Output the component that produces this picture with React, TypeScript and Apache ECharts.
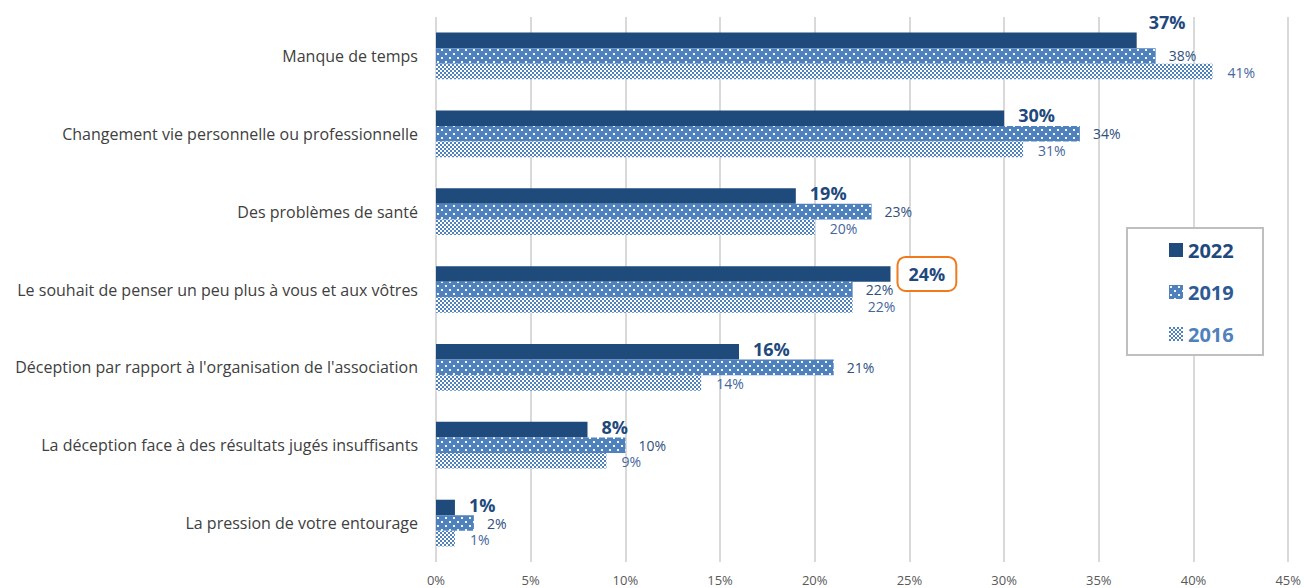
import React, { useEffect, useRef } from "react";
import * as echarts from "echarts";

const categories = [
  "Manque de temps",
  "Changement vie personnelle ou professionnelle",
  "Des problèmes de santé",
  "Le souhait de penser un peu plus à vous et aux vôtres",
  "Déception par rapport à l'organisation de l'association",
  "La déception face à des résultats jugés insuffisants",
  "La pression de votre entourage",
];
const values2022 = [37, 30, 19, 24, 16, 8, 1];
const values2019 = [38, 34, 23, 22, 21, 10, 2];
const values2016 = [41, 31, 20, 22, 14, 9, 1];
const seriesNames = ["2022", "2019", "2016"];

const FONT = "'Open Sans', 'Noto Sans', sans-serif";

function makeDots(): HTMLCanvasElement {
  const c = document.createElement("canvas");
  c.width = 8;
  c.height = 8;
  const ctx = c.getContext("2d")!;
  ctx.fillStyle = "#4F81BD";
  ctx.fillRect(0, 0, 8, 8);
  ctx.fillStyle = "rgba(255,255,255,0.95)";
  ctx.fillRect(1, 1, 2, 2);
  ctx.fillRect(5, 5, 2, 2);
  return c;
}

function makeChecker(): HTMLCanvasElement {
  const c = document.createElement("canvas");
  c.width = 4;
  c.height = 4;
  const ctx = c.getContext("2d")!;
  ctx.fillStyle = "#ffffff";
  ctx.fillRect(0, 0, 4, 4);
  ctx.fillStyle = "#4F81BD";
  ctx.fillRect(0, 0, 2, 2);
  ctx.fillRect(2, 2, 2, 2);
  return c;
}

export default function App() {
  const ref = useRef<HTMLDivElement>(null);
  useEffect(() => {
    if (!ref.current) return;
    const chart = echarts.init(ref.current, null, { renderer: "svg" });
    const dots = makeDots();
    const checker = makeChecker();

    const data2022 = values2022.map((v, i) => {
      if (i === 0) return { value: v, label: { offset: [-2, -18] } };
      if (i === 3)
        return {
          value: v,
          label: {
            distance: 8,
            offset: [0, 0],
            backgroundColor: "#ffffff",
            borderColor: "#F07A1C",
            borderWidth: 2,
            borderRadius: 7,
            padding: [7, 10, 7, 10],
          },
        };
      return v;
    });

    chart.setOption({
      animation: false,
      textStyle: { fontFamily: FONT },
      grid: { left: 436, right: 14, top: 17, bottom: 26 },
      xAxis: {
        type: "value",
        min: 0,
        max: 45,
        interval: 5,
        axisLine: { show: false },
        axisTick: { show: false },
        axisLabel: {
          formatter: "{value}%",
          color: "#595959",
          fontSize: 13,
          margin: 11,
          fontFamily: FONT,
        },
        splitLine: { show: true, lineStyle: { color: "#D9D9D9", width: 2 } },
      },
      yAxis: {
        type: "category",
        inverse: true,
        data: categories,
        axisLine: { show: false },
        axisTick: { show: false },
        axisLabel: { color: "#404040", fontSize: 16, margin: 18, fontFamily: FONT },
      },
      legend: {
        orient: "vertical",
        left: 1164,
        top: 235,
        itemWidth: 14,
        itemHeight: 14,
        itemGap: 22,
        z: 20,
        icon: "rect",
        data: [
          { name: seriesNames[0], textStyle: { color: "#1F497D" } },
          { name: seriesNames[1], textStyle: { color: "#2E5A94" } },
          { name: seriesNames[2], textStyle: { color: "#4F81BD" } },
        ],
        textStyle: { fontSize: 20, fontWeight: "bold", fontFamily: FONT, lineHeight: 20 },
      },
      graphic: [
        {
          type: "rect",
          z: 10,
          shape: { x: 1127, y: 228, width: 136, height: 127 },
          style: { fill: "#ffffff", stroke: "#BFBFBF", lineWidth: 2 },
        },
      ],
      series: [
        {
          name: seriesNames[0],
          type: "bar",
          data: data2022,
          barGap: "0%",
          barCategoryGap: "40%",
          itemStyle: { color: "#1F4A7C" },
          label: {
            show: true,
            position: "right",
            distance: 14,
            offset: [0, -3],
            formatter: "{c}%",
            color: "#1F497D",
            fontSize: 18,
            fontWeight: "bold",
            fontFamily: FONT,
          },
        },
        {
          name: seriesNames[1],
          type: "bar",
          data: values2019,
          barGap: "0%",
          barCategoryGap: "40%",
          itemStyle: { color: { image: dots, repeat: "repeat" } },
          label: {
            show: true,
            position: "right",
            distance: 13,
            formatter: "{c}%",
            color: "#2F4F80",
            fontSize: 14,
            fontFamily: FONT,
          },
        },
        {
          name: seriesNames[2],
          type: "bar",
          data: values2016,
          barGap: "0%",
          barCategoryGap: "40%",
          itemStyle: { color: { image: checker, repeat: "repeat" } },
          label: {
            show: true,
            position: "right",
            distance: 15,
            offset: [0, 1],
            formatter: "{c}%",
            color: "#44679C",
            fontSize: 14,
            fontFamily: FONT,
          },
        },
      ],
    });
    return () => chart.dispose();
  }, []);
  return (
    <div
      ref={ref}
      style={{ position: "fixed", left: 0, top: 0, width: 1304, height: 588, background: "#fff" }}
    />
  );
}
